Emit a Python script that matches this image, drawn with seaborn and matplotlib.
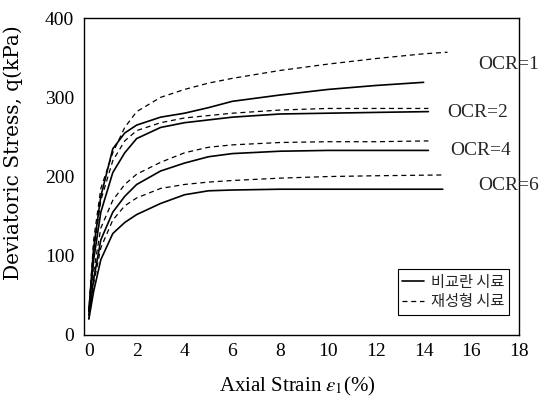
import matplotlib
matplotlib.use("Agg")
import matplotlib.pyplot as plt
import seaborn as sns

sns.set_theme(style="white")
plt.rcParams['font.family'] = ['Liberation Serif', 'Noto Sans CJK KR', 'DejaVu Sans']
plt.rcParams['mathtext.fontset'] = 'stix'

# Reconstituted (dashed) and undisturbed (solid) curves
x_ocr1_d = [0, 0.2, 0.5, 1, 1.5, 2, 3, 4, 5, 6, 8, 10, 12, 14, 15]
y_ocr1_d = [30, 120, 185, 230, 262, 282, 300, 310, 318, 324, 334, 342, 349, 355, 357]
x_ocr1_s = [0, 0.2, 0.5, 1, 1.5, 2, 3, 4, 5, 6, 8, 10, 12, 14]
y_ocr1_s = [30, 110, 175, 235, 255, 265, 275, 280, 287, 295, 303, 310, 315, 319]

x_ocr2 = [0, 0.2, 0.5, 1, 1.5, 2, 3, 4, 6, 8, 10, 12, 14.2]
y_ocr2_d = [30, 105, 170, 220, 245, 258, 268, 274, 280, 284, 286, 286, 286]
y_ocr2_s = [30, 95, 155, 205, 230, 248, 262, 268, 275, 279, 280, 281, 282]

x_ocr4 = [0, 0.2, 0.5, 1, 1.5, 2, 3, 4, 5, 6, 8, 10, 12, 14.2]
y_ocr4_d = [25, 80, 135, 170, 190, 203, 218, 230, 237, 240, 243, 244, 244, 245]
y_ocr4_s = [25, 70, 120, 155, 175, 190, 207, 217, 225, 229, 232, 233, 233, 233]

x_ocr6 = [0, 0.2, 0.5, 1, 1.5, 2, 3, 4, 5, 6, 8, 10, 12, 14.8]
y_ocr6_d = [20, 65, 110, 145, 163, 173, 185, 190, 193, 195, 198, 200, 201, 202]
y_ocr6_s = [20, 55, 95, 128, 142, 152, 166, 177, 182, 183, 184, 184, 184, 184]

labels = ["OCR=1", "OCR=2", "OCR=4", "OCR=6"]
label_x = [16.3, 15.0, 15.1, 16.3]
label_y = [341, 281, 233, 189]

xticks = [0, 2, 4, 6, 8, 10, 12, 14, 16, 18]
yticks = [0, 100, 200, 300, 400]

fig = plt.figure(figsize=(5.46, 4.04), dpi=100)
ax = fig.add_axes([0.154, 0.171, 0.797, 0.784])

solid = [(x_ocr1_s, y_ocr1_s), (x_ocr2, y_ocr2_s), (x_ocr4, y_ocr4_s), (x_ocr6, y_ocr6_s)]
dashed = [(x_ocr1_d, y_ocr1_d), (x_ocr2, y_ocr2_d), (x_ocr4, y_ocr4_d), (x_ocr6, y_ocr6_d)]

for i, (xs, ys) in enumerate(solid):
    sns.lineplot(x=xs, y=ys, ax=ax, color='black', lw=1.2, linestyle='-',
                 label='비교란 시료' if i == 0 else None)
for i, (xs, ys) in enumerate(dashed):
    sns.lineplot(x=xs, y=ys, ax=ax, color='black', lw=0.9, linestyle=(0, (4, 3)),
                 label='재성형 시료' if i == 0 else None)

for t, lx, ly in zip(labels, label_x, label_y):
    ax.text(lx, ly, t, fontsize=14, va='center', ha='left', clip_on=False,
            family=['Liberation Serif'])

ax.set_xlim(-0.2, 17.9)
ax.set_ylim(0, 400)
ax.set_xticks(xticks)
ax.set_yticks(yticks)
ax.tick_params(direction='in', length=3, labelsize=14, colors='black')
ax.tick_params(axis='x', pad=6)
ax.tick_params(axis='y', pad=7)
for s in ax.spines.values():
    s.set_color('black')
    s.set_linewidth(1.0)
ax.set_xlabel('Axial Strain $\\varepsilon_1$(%)', fontsize=15, color='black')
ax.set_ylabel('Deviatoric Stress, q(kPa)', fontsize=14.5, color='black',
              family=['DejaVu Serif'])
ax.xaxis.set_label_coords(0.49, -0.125)
ax.yaxis.set_label_coords(-0.14, 0.574)

leg = ax.legend(loc='lower right', frameon=True, fancybox=False, framealpha=1,
                edgecolor='black', prop={'family': ['Noto Sans CJK KR'], 'size': 11},
                handlelength=1.4, handletextpad=0.5, borderpad=0.3, labelspacing=0.15,
                bbox_to_anchor=(0.995, 0.04))
leg.get_frame().set_linewidth(0.8)

fig.savefig('out.png', dpi=100)
